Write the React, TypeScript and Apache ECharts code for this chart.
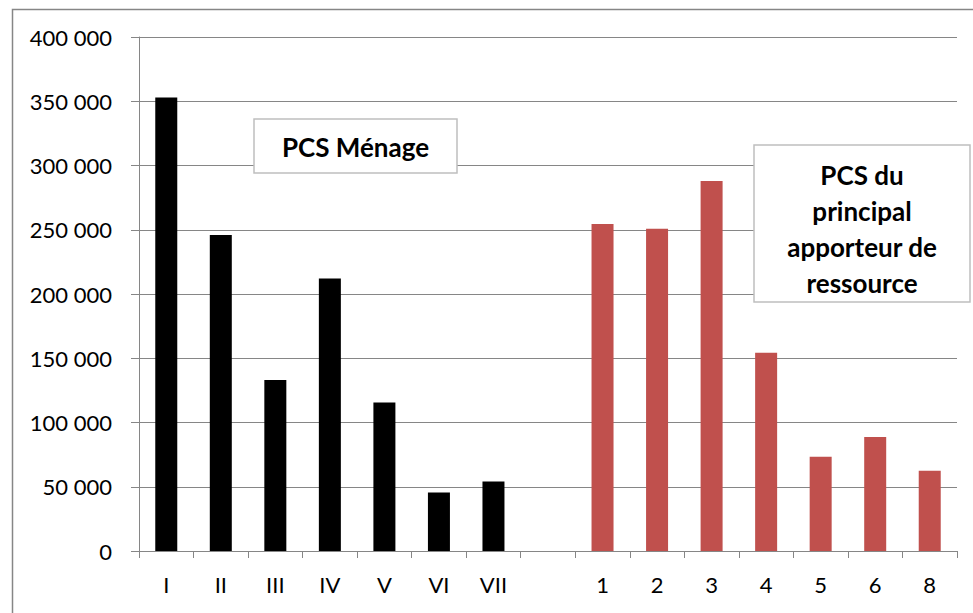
import React, { useEffect, useRef } from "react";
import * as echarts from "echarts";

const categories = ["I", "II", "III", "IV", "V", "VI", "VII", "", "1", "2", "3", "4", "5", "6", "8"];
const menageLabels = ["I", "II", "III", "IV", "V", "VI", "VII"];
const menageValues = [353000, 246000, 133000, 212000, 115500, 45500, 54000];
const apporteurLabels = ["1", "2", "3", "4", "5", "6", "8"];
const apporteurValues = [254500, 250800, 288000, 154300, 73300, 88800, 62500];
const yTicks = { min: 0, max: 400000, interval: 50000 };

const FONT = "Lato";

function fmt(v: number): string {
  return String(v).replace(/\B(?=(\d{3})+(?!\d))/g, " ");
}

export default function App() {
  const ref = useRef<HTMLDivElement>(null);
  useEffect(() => {
    if (!ref.current) return;
    const chart = echarts.init(ref.current, null, { renderer: "svg" });
    const menageData = categories.map((c) => {
      const i = menageLabels.indexOf(c);
      return c !== "" && i >= 0 && categories.indexOf(c) < 7 ? menageValues[i] : null;
    });
    const apporteurData = categories.map((c, idx) => {
      const i = apporteurLabels.indexOf(c);
      return idx > 7 && i >= 0 ? apporteurValues[i] : null;
    });
    chart.setOption({
      animation: false,
      backgroundColor: "#ffffff",
      grid: { left: 139, right: 16, top: 37, bottom: 62, containLabel: false },
      xAxis: {
        type: "category",
        data: categories,
        boundaryGap: true,
        axisLine: { show: true, lineStyle: { color: "#868686", width: 1 } },
        axisTick: { show: true, alignWithLabel: false, length: 7, inside: false, lineStyle: { color: "#868686" } },
        axisLabel: { color: "#000", fontFamily: FONT, fontSize: 22, margin: 22, interval: 0 },
        splitLine: { show: false },
      },
      yAxis: {
        type: "value",
        min: yTicks.min,
        max: yTicks.max,
        interval: yTicks.interval,
        axisLine: { show: true, lineStyle: { color: "#868686", width: 1 } },
        axisTick: { show: true, length: 8, lineStyle: { color: "#868686" } },
        axisLabel: { color: "#000", fontFamily: FONT, fontSize: 22, margin: 27, formatter: (v: number) => fmt(v) },
        splitLine: { show: true, lineStyle: { color: "#868686", width: 1 } },
      },
      series: [
        {
          name: "PCS Ménage",
          type: "bar",
          data: menageData,
          barWidth: 22,
          barGap: "-100%",
          itemStyle: { color: "#000000" },
        },
        {
          name: "PCS du principal apporteur de ressource",
          type: "bar",
          data: apporteurData,
          barWidth: 22,
          barGap: "-100%",
          itemStyle: { color: "#C0504D" },
        },
      ],
      graphic: [
        {
          type: "rect",
          left: 10,
          top: 7,
          shape: { x: 0, y: 0, width: 985, height: 640 },
          style: { fill: "none", stroke: "#868686", lineWidth: 1.5 },
          silent: true,
          z: 100,
        },
        {
          type: "rect",
          shape: { x: 254, y: 119, width: 203, height: 54 },
          style: { fill: "#ffffff", stroke: "#bfbfbf", lineWidth: 1.5 },
          z: 100,
        },
        {
          type: "text",
          x: 355.5,
          y: 147,
          style: {
            text: "PCS Ménage",
            fontFamily: FONT,
            fontWeight: "bold",
            fontSize: 26,
            fill: "#000",
            align: "center",
            verticalAlign: "middle",
          },
          z: 101,
        },
        {
          type: "rect",
          shape: { x: 754, y: 145, width: 216, height: 157 },
          style: { fill: "#ffffff", stroke: "#bfbfbf", lineWidth: 1.5 },
          z: 100,
        },
        {
          type: "text",
          x: 862,
          y: 229,
          style: {
            text: "PCS du\nprincipal\napporteur de\nressource",
            fontFamily: FONT,
            fontWeight: "bold",
            fontSize: 26,
            lineHeight: 36,
            fill: "#000",
            align: "center",
            verticalAlign: "middle",
          },
          z: 101,
        },
      ],
    });
    return () => chart.dispose();
  }, []);
  return (
    <div style={{ position: "fixed", left: 0, top: 0, width: 973, height: 613, background: "#fff" }}>
      <div ref={ref} style={{ width: 973, height: 613 }} />
    </div>
  );
}
